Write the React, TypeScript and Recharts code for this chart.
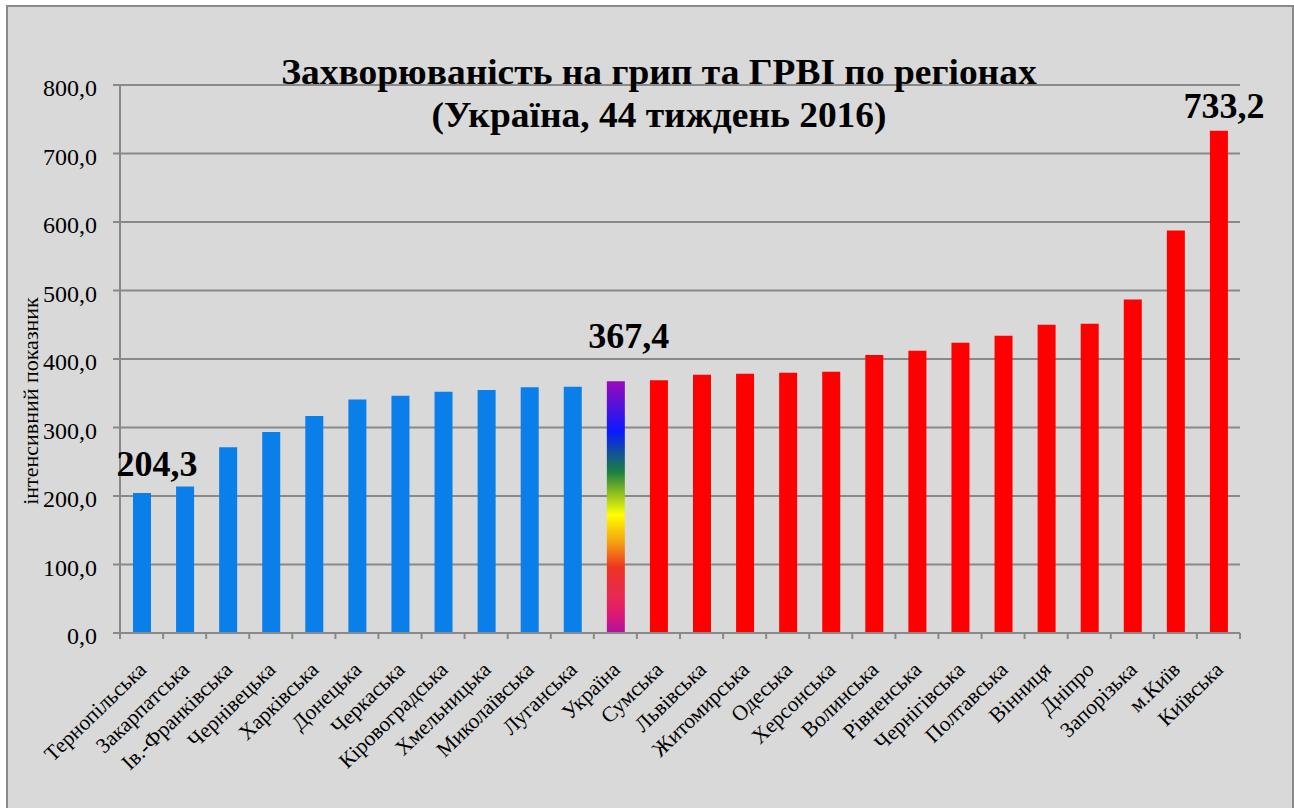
import React from "react";
import { BarChart, Bar, XAxis, YAxis, CartesianGrid, Cell, LabelList } from "recharts";

const regions = [
  "Тернопільська", "Закарпатська", "Ів.-Франківська", "Чернівецька", "Харківська",
  "Донецька", "Черкаська", "Кіровоградська", "Хмельницька", "Миколаївська",
  "Луганська", "Україна", "Сумська", "Львівська", "Житомирська", "Одеська",
  "Херсонська", "Волинська", "Рівненська", "Чернігівська", "Полтавська",
  "Вінниця", "Дніпро", "Запорізька", "м.Київ", "Київська",
];
const rates = [
  204.3, 213.9, 271.0, 293.3, 316.7, 341.0, 346.4, 352.2, 354.7, 358.6,
  359.5, 367.4, 369.0, 377.0, 378.5, 380.0, 381.4, 406.0, 412.0, 423.8,
  434.0, 450.1, 451.6, 486.7, 587.6, 733.2,
];
const groups = [
  "low", "low", "low", "low", "low", "low", "low", "low", "low", "low",
  "low", "country", "high", "high", "high", "high", "high", "high", "high", "high",
  "high", "high", "high", "high", "high", "high",
];
const labelled = ["Тернопільська", "Україна", "Київська"];
const yTicks = [0, 100, 200, 300, 400, 500, 600, 700, 800];
const titleLines = ["Захворюваність на грип та ГРВІ по регіонах", "(Україна, 44 тиждень 2016)"];
const yTitle = "інтенсивний показник";

const data = regions.map((r, i) => ({ name: r, value: rates[i], group: groups[i] }));

const FONT = "'Liberation Serif', 'Times New Roman', serif";
const W = 1284;
const H = 810;
const M_TOP = 78;
const M_RIGHT = 52;
const Y_W = 112;
const X_H = 184;
const PLOT_W = W - Y_W - M_RIGHT;
const BAND = PLOT_W / regions.length;
const GRID = "#898989";

const fillFor = (g: string) => (g === "low" ? "#0a7fea" : g === "high" ? "#ff0000" : "url(#rainbow)");
const fmt = (v: number) => v.toFixed(1).replace(".", ",");

const XTick = (props: any) => {
  const { x, y, payload, index } = props;
  const idx = index ?? payload.index;
  const last = idx === regions.length - 1;
  return (
    <g>
      <line x1={x - BAND / 2} y1={y} x2={x - BAND / 2} y2={y + 6} stroke={GRID} strokeWidth={2} />
      {last && <line x1={x + BAND / 2} y1={y} x2={x + BAND / 2} y2={y + 6} stroke={GRID} strokeWidth={2} />}
      <text
        x={x + 6}
        y={y + 38}
        transform={`rotate(-44, ${x + 6}, ${y + 38})`}
        textAnchor="end"
        fontFamily={FONT}
        fontSize={21.5}
        fill="#000"
      >
        {payload.value}
      </text>
    </g>
  );
};

const YTick = (props: any) => {
  const { x, y, payload } = props;
  return (
    <text x={x} y={y + 11} textAnchor="end" fontFamily={FONT} fontSize={24} fill="#000">
      {fmt(payload.value)}
    </text>
  );
};

const labelOffsets: Record<string, [number, number]> = {
  "Тернопільська": [15, -17],
  "Україна": [13, -33],
  "Київська": [5, -13],
};

const PeakLabel = (props: any) => {
  const { x, y, width, value, index } = props;
  const name = regions[index];
  if (!labelled.includes(name)) return null;
  const [dx, dy] = labelOffsets[name];
  return (
    <text
      x={x + width / 2 + dx}
      y={y + dy}
      textAnchor="middle"
      fontFamily={FONT}
      fontWeight="bold"
      fontSize={36}
      fill="#000"
    >
      {fmt(value)}
    </text>
  );
};

const YTitle = (props: any) => {
  const vb = props.viewBox;
  const cx = 22;
  const cy = vb.y + vb.height / 2 + 42;
  return (
    <text
      x={cx}
      y={cy}
      transform={`rotate(-90, ${cx}, ${cy})`}
      textAnchor="middle"
      fontFamily={FONT}
      fontSize={22}
      fill="#000"
      dominantBaseline="central"
    >
      {yTitle}
    </text>
  );
};

export default function App() {
  return (
    <div
      style={{
        position: "absolute",
        left: 6,
        top: 5,
        width: W,
        height: H,
        border: `2px solid ${GRID}`,
        background: "#d9d9d9",
        overflow: "hidden",
      }}
    >
      <BarChart
        width={W}
        height={H}
        data={data}
        margin={{ top: M_TOP, right: M_RIGHT, left: 0, bottom: 0 }}
        barSize={18}
      >
        <defs>
          <linearGradient id="rainbow" x1="0" y1="0" x2="0" y2="1">
            <stop offset="0" stopColor="#9a0ab8" />
            <stop offset="0.2" stopColor="#0a1aff" />
            <stop offset="0.36" stopColor="#1a8040" />
            <stop offset="0.53" stopColor="#ffff00" />
            <stop offset="0.64" stopColor="#f5a010" />
            <stop offset="0.74" stopColor="#ee3322" />
            <stop offset="0.85" stopColor="#e82a50" />
            <stop offset="0.92" stopColor="#e01a70" />
            <stop offset="1" stopColor="#b010a0" />
          </linearGradient>
        </defs>
        <CartesianGrid vertical={false} stroke={GRID} strokeWidth={2} />
        <XAxis
          dataKey="name"
          interval={0}
          height={X_H}
          axisLine={{ stroke: GRID, strokeWidth: 2 }}
          tickLine={false}
          tickSize={0}
          tickMargin={0}
          tick={<XTick />}
        />
        <YAxis
          width={Y_W}
          domain={[0, 800]}
          ticks={yTicks}
          interval={0}
          axisLine={{ stroke: GRID, strokeWidth: 2 }}
          tickLine={{ stroke: GRID, strokeWidth: 2 }}
          tickSize={7}
          tickMargin={16}
          tick={<YTick />}
          label={<YTitle />}
        />
        <Bar dataKey="value" isAnimationActive={false}>
          {data.map((d) => (
            <Cell key={d.name} fill={fillFor(d.group)} />
          ))}
          <LabelList dataKey="value" content={<PeakLabel />} />
        </Bar>
      </BarChart>
      <div
        style={{
          position: "absolute",
          left: 251,
          top: 44,
          width: 800,
          textAlign: "center",
          fontFamily: FONT,
          fontWeight: "bold",
          fontSize: 35,
          lineHeight: "43px",
          color: "#000",
          whiteSpace: "nowrap",
          transform: "scaleX(1.07)",
          transformOrigin: "center top",
        }}
      >
        {titleLines.map((t) => (
          <div key={t}>{t}</div>
        ))}
      </div>
    </div>
  );
}
